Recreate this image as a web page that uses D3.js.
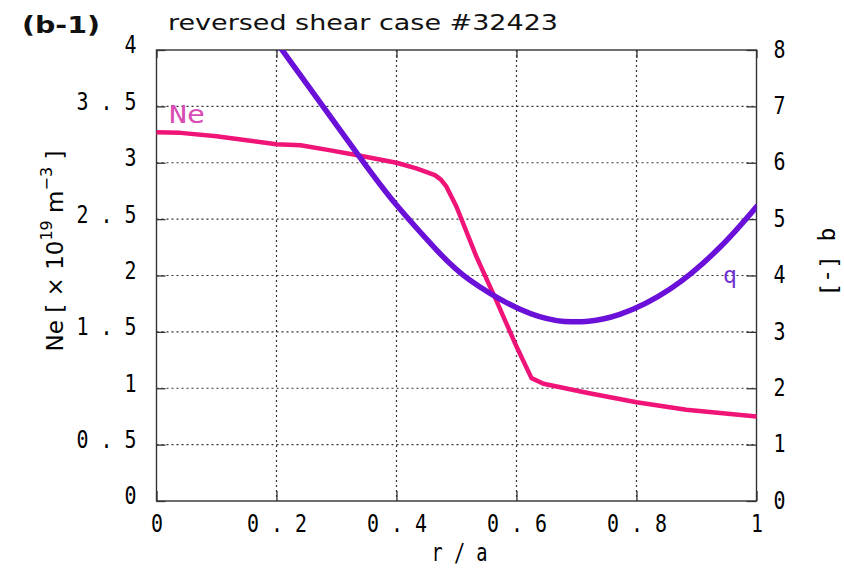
<!DOCTYPE html>
<html>
<head>
<meta charset="utf-8">
<script src="https://cdn.jsdelivr.net/npm/d3@7"></script>
<style>
  html, body { margin: 0; padding: 0; background: #fff; }
  svg { display: block; }
</style>
</head>
<body>
<svg id="chart" width="844" height="570"></svg>
<script>
// Electron density profile (left axis)
const neR   = [0, 0.04, 0.10, 0.15, 0.20, 0.24, 0.29, 0.333, 0.40, 0.433, 0.464, 0.474, 0.483, 0.50, 0.533, 0.567, 0.60, 0.625, 0.645, 0.717, 0.80, 0.883, 1.0];
const neVal = [3.27, 3.265, 3.235, 3.20, 3.165, 3.155, 3.11, 3.068, 3.00, 2.95, 2.89, 2.85, 2.79, 2.61, 2.17, 1.77, 1.37, 1.09, 1.04, 0.96, 0.876, 0.81, 0.75];

// Safety factor profile (right axis)
const qR   = [0.208, 0.336, 0.40, 0.467, 0.522, 0.606, 0.667, 0.695, 0.72, 0.772, 0.856, 0.939, 1.0];
const qVal = [8.02, 6.14, 5.25, 4.45, 3.92, 3.40, 3.20, 3.18, 3.19, 3.31, 3.76, 4.50, 5.22];

// Tick values and their printed labels
const xTicks      = [0, 0.2, 0.4, 0.6, 0.8, 1];
const xTickLabels = ["0", "0 . 2", "0 . 4", "0 . 6", "0 . 8", "1"];
const yTicks      = [0, 0.5, 1, 1.5, 2, 2.5, 3, 3.5, 4];
const yTickLabels = ["0", "0 . 5", "1", "1 . 5", "2", "2 . 5", "3", "3 . 5", "4"];
const y2Ticks      = [0, 1, 2, 3, 4, 5, 6, 7, 8];
const y2TickLabels = ["0", "1", "2", "3", "4", "5", "6", "7", "8"];

const svg = d3.select("#chart");
const plotLeft = 156.5, plotRight = 756.5, plotTop = 50, plotBottom = 501;

const x  = d3.scaleLinear().domain([0, 1]).range([plotLeft, plotRight]);
const y  = d3.scaleLinear().domain([0, 4]).range([plotBottom, plotTop]);
const y2 = d3.scaleLinear().domain([0, 8]).range([plotBottom, plotTop]);

const monoFont = "'DejaVu Sans Mono', 'Liberation Mono', monospace";
const sansFont = "'DejaVu Sans', 'Liberation Sans', sans-serif";
const charW = 12;

// Dotted grid
const grid = svg.append("g").attr("stroke", "#333").attr("stroke-width", 1.2)
  .attr("stroke-dasharray", "2,3");
grid.selectAll("line.v").data(xTicks.slice(1, -1)).join("line").attr("class", "v")
  .attr("x1", d => x(d)).attr("x2", d => x(d)).attr("y1", plotTop).attr("y2", plotBottom);
grid.selectAll("line.h").data(yTicks.slice(1, -1)).join("line").attr("class", "h")
  .attr("x1", plotLeft).attr("x2", plotRight).attr("y1", d => y(d)).attr("y2", d => y(d));

function styleTicks(g, labels, dy) {
  g.select(".domain").remove();
  g.selectAll(".tick line").attr("stroke", "#333").attr("stroke-width", 1.3);
  g.selectAll(".tick text")
    .text((d, i) => labels[i])
    .attr("font-family", monoFont)
    .attr("font-size", 24)
    .attr("fill", "#000")
    .attr("textLength", (d, i) => labels[i].length * charW)
    .attr("lengthAdjust", "spacingAndGlyphs");
  if (dy !== undefined) g.selectAll(".tick text").attr("dy", dy);
}

// Bottom axis
svg.append("g").attr("transform", `translate(0,${plotBottom})`)
  .call(d3.axisBottom(x).tickValues(xTicks).tickSizeInner(-10).tickSizeOuter(0).tickPadding(14))
  .call(g => styleTicks(g, xTickLabels));
// Top ticks
svg.append("g").attr("transform", `translate(0,${plotTop})`)
  .call(d3.axisTop(x).tickValues(xTicks).tickSizeInner(-8).tickSizeOuter(0).tickFormat(""))
  .call(g => { g.select(".domain").remove(); g.selectAll(".tick line").attr("stroke", "#333").attr("stroke-width", 1.3); });
// Left axis
svg.append("g").attr("transform", `translate(${plotLeft},0)`)
  .call(d3.axisLeft(y).tickValues(yTicks).tickSizeInner(-9).tickSizeOuter(0).tickPadding(20))
  .call(g => styleTicks(g, yTickLabels, "0.12em"));
// Right axis
svg.append("g").attr("transform", `translate(${plotRight},0)`)
  .call(d3.axisRight(y2).tickValues(y2Ticks).tickSizeInner(-10).tickSizeOuter(0).tickPadding(17))
  .call(g => styleTicks(g, y2TickLabels, "0.3em"));

// Frame
svg.append("rect").attr("x", plotLeft).attr("y", plotTop)
  .attr("width", plotRight - plotLeft).attr("height", plotBottom - plotTop)
  .attr("fill", "none").attr("stroke", "#333").attr("stroke-width", 1.4);

// Curves
svg.append("clipPath").attr("id", "plotClip").append("rect")
  .attr("x", plotLeft).attr("y", plotTop).attr("width", plotRight - plotLeft).attr("height", plotBottom - plotTop);
const curves = svg.append("g").attr("clip-path", "url(#plotClip)");

const neLine = d3.line().x((d, i) => x(neR[i])).y(d => y(d)).curve(d3.curveLinear);
curves.append("path").attr("d", neLine(neVal))
  .attr("fill", "none").attr("stroke", "#f01478").attr("stroke-width", 4.5)
  .attr("stroke-linejoin", "round").attr("stroke-linecap", "round");

const qLine = d3.line().x((d, i) => x(qR[i])).y(d => y2(d)).curve(d3.curveNatural);
curves.append("path").attr("d", qLine(qVal))
  .attr("fill", "none").attr("stroke", "#6a10d8").attr("stroke-width", 5.5)
  .attr("stroke-linejoin", "round").attr("stroke-linecap", "round");

// Curve labels
svg.append("text").attr("x", 169).attr("y", 123).text("Ne")
  .attr("font-family", monoFont).attr("font-size", 24).attr("fill", "#d84cb4")
  .attr("textLength", 36).attr("lengthAdjust", "spacingAndGlyphs");
svg.append("text").attr("x", 723).attr("y", 283).text("q")
  .attr("font-family", monoFont).attr("font-size", 23).attr("fill", "#7030d0");

// Titles
svg.append("text").attr("x", 22).attr("y", 33).text("(b-1)")
  .attr("font-family", sansFont).attr("font-size", 23).attr("font-weight", "bold").attr("fill", "#111")
  .attr("textLength", 78).attr("lengthAdjust", "spacingAndGlyphs");
svg.append("text").attr("x", 168).attr("y", 30).text("reversed shear case #32423")
  .attr("font-family", sansFont).attr("font-size", 22).attr("fill", "#111")
  .attr("textLength", 390).attr("lengthAdjust", "spacingAndGlyphs");

// Axis titles
svg.append("text").attr("x", (plotLeft + plotRight) / 2 + 3).attr("y", 561).text("r / a")
  .attr("text-anchor", "middle").attr("font-family", monoFont).attr("font-size", 24).attr("fill", "#000")
  .attr("textLength", 56).attr("lengthAdjust", "spacingAndGlyphs");

const yTitle = svg.append("text")
  .attr("transform", "translate(63,251) rotate(-90)")
  .attr("text-anchor", "middle").attr("font-family", sansFont).attr("font-size", 23).attr("fill", "#000");
yTitle.append("tspan").text("Ne [ × 10");
yTitle.append("tspan").text("19").attr("font-size", 16).attr("dy", -11);
yTitle.append("tspan").text(" m").attr("dy", 11);
yTitle.append("tspan").text("−3").attr("font-size", 16).attr("dy", -11);
yTitle.append("tspan").text(" ]").attr("dy", 11);

svg.append("text")
  .attr("transform", "translate(822,262) rotate(90)")
  .attr("text-anchor", "middle").attr("font-family", monoFont).attr("font-size", 23).attr("fill", "#000")
  .text("q [-]");
</script>
</body>
</html>
